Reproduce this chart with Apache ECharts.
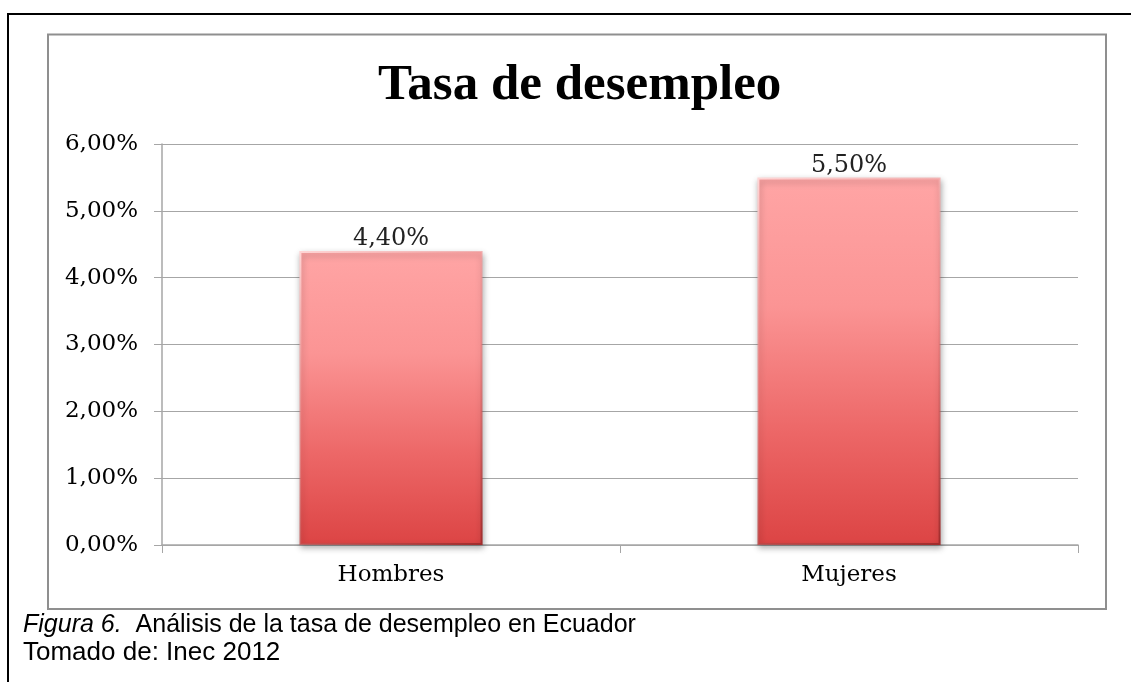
<!DOCTYPE html>
<html>
<head>
<meta charset="utf-8">
<script src="https://cdn.jsdelivr.net/npm/echarts@6/dist/echarts.min.js"></script>
<style>
  html, body { margin: 0; padding: 0; background: #fff; }
  #chart { width: 1131px; height: 682px; }
</style>
</head>
<body>
<div id="chart"></div>
<script>
const titleText = 'Tasa de desempleo';
const categories = ['Hombres', 'Mujeres'];
const values = [4.40, 5.50];
const yMin = 0, yMax = 6, yInterval = 1;
const captionItalic = 'Figura 6.';
const captionRest = '  Análisis de la tasa de desempleo en Ecuador';
const captionSource = 'Tomado de: Inec 2012';

const pct = v => v.toFixed(2).replace('.', ',') + '%';

const chart = echarts.init(document.getElementById('chart'), null, { renderer: 'canvas' });
chart.setOption({
  backgroundColor: '#ffffff',
  animation: false,
  title: {
    text: titleText,
    left: 373,
    top: 55,
    textStyle: { fontFamily: 'Liberation Serif', fontWeight: 'bold', fontSize: 51, color: '#000' }
  },
  grid: { left: 162, right: 53, top: 144, bottom: 137 },
  xAxis: {
    type: 'category',
    data: categories,
    axisLine: { lineStyle: { color: '#a6a6a6', width: 1.5 } },
    axisTick: { show: true, length: 8, alignWithLabel: false, lineStyle: { color: '#a6a6a6' } },
    axisLabel: { margin: 19, fontFamily: 'DejaVu Serif', fontSize: 23, color: '#000' }
  },
  yAxis: {
    type: 'value',
    min: yMin, max: yMax, interval: yInterval,
    axisLine: { show: true, lineStyle: { color: '#a6a6a6', width: 1.5 } },
    axisTick: { show: true, length: 8, lineStyle: { color: '#a6a6a6' } },
    splitLine: { show: true, lineStyle: { color: '#a6a6a6', width: 1 } },
    axisLabel: { margin: 24, fontFamily: 'DejaVu Serif', fontSize: 23, color: '#000', formatter: pct }
  },
  series: [{
    type: 'bar',
    data: values,
    barWidth: '40%',
    itemStyle: {
      color: new echarts.graphic.LinearGradient(0, 0, 0, 1, [
        { offset: 0, color: '#ffa5a5' },
        { offset: 0.35, color: '#fb9494' },
        { offset: 0.7, color: '#ec6666' },
        { offset: 1, color: '#dc4444' }
      ]),
      borderWidth: 2,
      borderColor: new echarts.graphic.LinearGradient(0, 0, 1, 1, [
        { offset: 0, color: '#ffd6d6' },
        { offset: 0.5, color: 'rgba(230,110,110,0.5)' },
        { offset: 1, color: '#a02c2c' }
      ]),
      shadowColor: 'rgba(0,0,0,0.3)',
      shadowBlur: 6,
      shadowOffsetX: 1,
      shadowOffsetY: 3
    },
    label: {
      show: true,
      position: 'top',
      distance: 0,
      fontFamily: 'DejaVu Serif',
      fontSize: 24,
      color: '#222',
      formatter: p => pct(p.value)
    }
  }],
  graphic: [
    { type: 'line', shape: { x1: 8, y1: 14, x2: 1131, y2: 14 }, style: { stroke: '#000', lineWidth: 2 } },
    { type: 'line', shape: { x1: 8, y1: 13, x2: 8, y2: 682 }, style: { stroke: '#000', lineWidth: 2 } },
    { type: 'rect', shape: { x: 48, y: 34.5, width: 1058, height: 574.5 }, style: { fill: 'none', stroke: '#8f8f8f', lineWidth: 2 } },
    {
      type: 'text', left: 23, top: 613,
      style: {
        text: '{i|' + captionItalic + '}' + captionRest,
        fontFamily: 'Liberation Sans', fontSize: 25, fill: '#000',
        rich: { i: { fontFamily: 'Liberation Sans', fontSize: 25, fontStyle: 'italic', fill: '#000' } }
      }
    },
    {
      type: 'text', left: 23, top: 640,
      style: { text: captionSource, fontFamily: 'Liberation Sans', fontSize: 26, fill: '#000' }
    }
  ]
});
</script>
</body>
</html>
